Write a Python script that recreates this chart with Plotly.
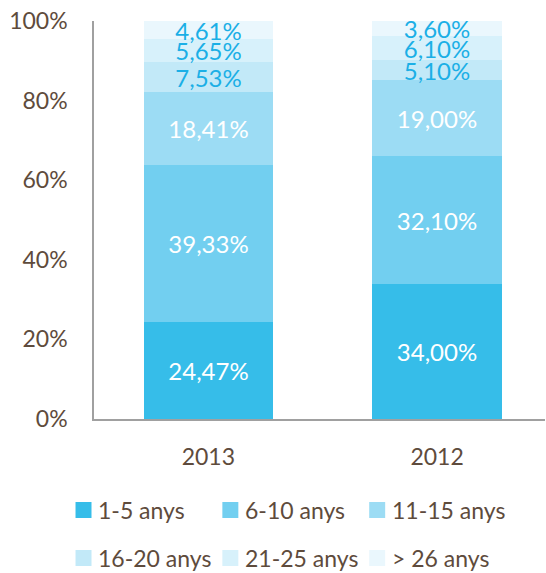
import plotly.graph_objects as go

years = ["2013", "2012"]
series_names = ["1-5 anys", "6-10 anys", "11-15 anys", "16-20 anys", "21-25 anys", "> 26 anys"]
values_2013 = [24.47, 39.33, 18.41, 7.53, 5.65, 4.61]
values_2012 = [34.00, 32.10, 19.00, 5.10, 6.10, 3.60]
colors = ["#36BDE9", "#72CFF0", "#9CDCF4", "#C2E9F8", "#D7F1FB", "#EAF7FD"]
label_colors = ["#FFFFFF", "#FFFFFF", "#FFFFFF", "#1BAFE6", "#1BAFE6", "#1BAFE6"]
y_ticks = [0, 20, 40, 60, 80, 100]
y_tick_labels = ["0%", "20%", "40%", "60%", "80%", "100%"]

FONT = "Lato"
TXT = "#5E4B3C"

W, H = 546, 573
# plot area in page pixels
PL, PT, PB, PR = 93.5, 21, 419, 545
L, T = PL, PT
B = H - PB
R = W - PR
pw = W - L - R
ph = H - T - B
XR = [-0.5, -0.5 + pw / 229.0]

def fmt(v):
    return f"{v:.2f}".replace(".", ",") + "%"

fig = go.Figure()
for i, name in enumerate(series_names):
    vals = [values_2013[i], values_2012[i]]
    fig.add_trace(go.Bar(
        x=[0, 1], y=vals, name=name,
        marker=dict(color=colors[i], line=dict(width=0)),
        width=0.567,
        text=[fmt(v) for v in vals],
        textposition="inside", insidetextanchor="middle",
        textangle=0,
        textfont=dict(family=FONT, size=24, color=label_colors[i]),
        showlegend=False,
        hoverinfo="skip",
    ))

def px2x(px):
    return (px - L) / pw

def py2y(py):
    return (H - B - py) / ph

shapes = []
annotations = []
col_x = [75, 222, 369]
row_y = [510, 558]
for i, name in enumerate(series_names):
    cx = col_x[i % 3]
    cy = row_y[i // 3]
    shapes.append(dict(type="rect", xref="paper", yref="paper",
                       x0=px2x(cx), x1=px2x(cx + 16),
                       y0=py2y(cy + 8), y1=py2y(cy - 8),
                       fillcolor=colors[i], line=dict(width=0)))
    annotations.append(dict(xref="paper", yref="paper", x=px2x(cx + 21), y=py2y(cy),
                            text=name, showarrow=False, xanchor="left", yanchor="middle",
                            font=dict(family=FONT, size=23, color=TXT)))

fig.update_layout(
    width=W, height=H,
    margin=dict(l=L, r=R, t=T, b=B, pad=0),
    paper_bgcolor="white", plot_bgcolor="white",
    barmode="stack", bargap=0,
    uniformtext=dict(minsize=24, mode="show"),
    shapes=shapes, annotations=annotations,
    xaxis=dict(range=XR, tickvals=[0, 1], ticktext=years, showgrid=False, zeroline=False,
               showline=True, linecolor="#A0A0A0", linewidth=1.5,
               ticks="", ticklabelstandoff=17,
               tickfont=dict(family=FONT, size=23, color=TXT)),
    yaxis=dict(range=[0, 100], tickvals=y_ticks, ticktext=y_tick_labels, showgrid=False,
               zeroline=False, showline=True, linecolor="#A0A0A0", linewidth=1.5,
               ticks="", ticklabelstandoff=20, ticklabeloverflow="allow",
               tickfont=dict(family=FONT, size=23, color=TXT)),
)

fig.write_html("out.html",
               config={"displayModeBar": False},
               post_script="document.body.style.margin='0';document.body.style.overflow='hidden';")
